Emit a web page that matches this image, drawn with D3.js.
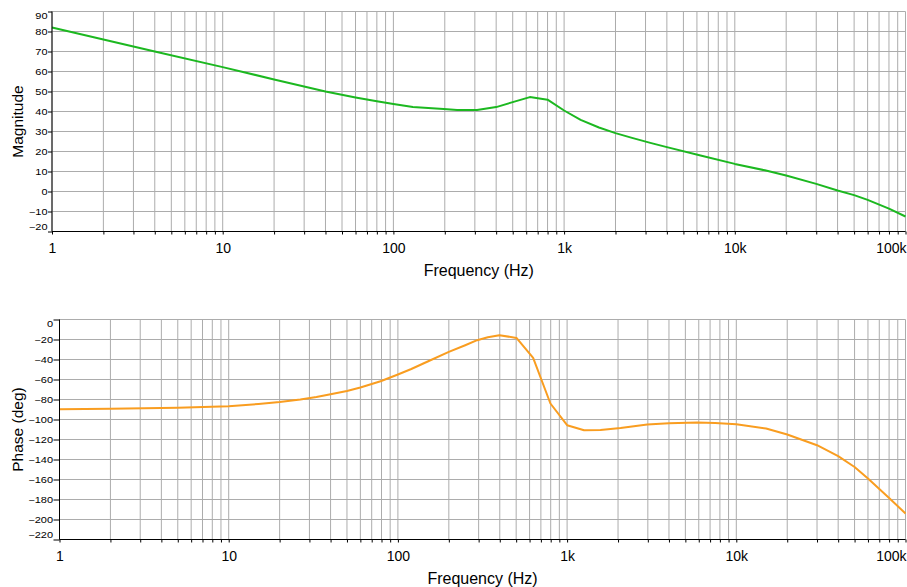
<!DOCTYPE html>
<html>
<head>
<meta charset="utf-8">
<script src="https://cdn.jsdelivr.net/npm/d3@7"></script>
<style>
  html, body { margin: 0; padding: 0; background: #ffffff; }
  svg { display: block; font-family: "Liberation Sans", Arial, sans-serif; }
</style>
</head>
<body>
<svg id="chart" width="907" height="587"></svg>
<script>
// ---- data ----
const magFreq = [1, 2, 4, 10, 20, 40, 60, 80, 100, 130, 160, 197, 236, 309, 400, 500, 630, 800, 1000, 1250, 1600, 2000, 2500, 3200, 4000, 6300, 10000, 15000, 20000, 30000, 40000, 50000, 60000, 80000, 100000];
const magDb   = [82, 76, 70, 62.2, 56, 50, 47.0, 45.1, 43.8, 42.2, 41.7, 41.2, 40.7, 40.8, 42.2, 44.7, 47.2, 45.9, 40.5, 35.8, 32, 29.2, 26.8, 24.3, 22.2, 18, 13.8, 10.6, 8, 3.8, 0.5, -1.8, -4.2, -8.6, -12.5];

const phFreq = [1, 2, 5, 10, 15, 20, 26.5, 33, 40, 50, 60, 79, 100, 120, 150, 200, 250, 294, 340, 398, 502, 630, 797, 1000, 1260, 1575, 2070, 2977, 4000, 5875, 7500, 10000, 15000, 20000, 30000, 40000, 50000, 60000, 80000, 100000];
const phDeg  = [-89.7, -89.3, -88.3, -86.7, -84.5, -82.6, -80, -77.5, -74.7, -71.5, -68, -61.7, -55, -49.5, -42, -32.4, -25.8, -20.7, -17.8, -15.7, -18.4, -38.4, -84, -105.7, -110.7, -110.4, -108.4, -105, -103.8, -103, -103.5, -104.7, -109, -115, -125.7, -136.7, -147.5, -159, -178.5, -194];

const freqDomain = [1, 100000];
const decadeLabels = ["1", "10", "100", "1k", "10k", "100k"];
const magTicks = [90, 80, 70, 60, 50, 40, 30, 20, 10, 0, -10, -20];
const phTicks = [0, -20, -40, -60, -80, -100, -120, -140, -160, -180, -200, -220];

const xLabel = "Frequency (Hz)";
const magLabel = "Magnitude";
const phLabel = "Phase (deg)";

// minor tick positions: 1..9 x each decade
const minorFreqs = [];
for (let d = 0; d < 5; d++) for (let m = 1; m <= 9; m++) minorFreqs.push(m * Math.pow(10, d));
minorFreqs.push(100000);

const svg = d3.select("#chart");

function panel(opts) {
  const x = d3.scaleLog().domain(freqDomain).range([opts.left, opts.right]);
  const y = d3.scaleLinear().domain(opts.yDomain).range([opts.bottom, opts.top]);
  const g = svg.append("g");

  // vertical grid
  g.append("g").selectAll("line").data(minorFreqs).join("line")
    .attr("x1", d => x(d)).attr("x2", d => x(d))
    .attr("y1", opts.top).attr("y2", opts.bottom)
    .attr("stroke", "#acacac").attr("stroke-width", 1);
  // horizontal grid
  g.append("g").selectAll("line").data(opts.yTicks).join("line")
    .attr("x1", opts.left).attr("x2", opts.right)
    .attr("y1", d => y(d)).attr("y2", d => y(d))
    .attr("stroke", "#acacac").attr("stroke-width", 1);

  // curve
  const pts = opts.freq.map((f, i) => [f, opts.vals[i]]);
  g.append("path").datum(pts)
    .attr("fill", "none")
    .attr("stroke", opts.color)
    .attr("stroke-width", 2)
    .attr("stroke-linejoin", "round")
    .attr("d", d3.line().x(d => x(d[0])).y(d => y(d[1])).curve(d3.curveLinear));

  // x axis
  const xAxis = d3.axisBottom(x)
    .tickValues(minorFreqs)
    .tickSize(3)
    .tickPadding(8.5)
    .tickFormat(d => {
      const l = Math.log10(d);
      return Math.abs(l - Math.round(l)) < 1e-9 ? decadeLabels[Math.round(l)] : "";
    });
  const gx = g.append("g").attr("transform", `translate(0,${opts.bottom})`).call(xAxis);
  gx.select(".domain").attr("stroke", "#000").attr("d", `M${opts.left},0H${opts.right}`);
  gx.selectAll(".tick line").attr("stroke", "#000");
  gx.selectAll(".tick text")
    .attr("fill", "#000")
    .style("font-size", "14px")
    .style("font-family", "'Liberation Sans', Arial, sans-serif")
    .attr("text-anchor", d => d === freqDomain[1] ? "end" : "middle")
    .attr("x", d => d === freqDomain[1] ? 0.5 : 0);

  // y axis
  const yAxis = d3.axisLeft(y).tickValues(opts.yTicks).tickSize(opts.tickLen).tickPadding(0.5);
  const gy = g.append("g").attr("transform", `translate(${opts.left},0)`).call(yAxis);
  gy.select(".domain").attr("stroke", "#000").attr("d", `M0,${opts.top}V${opts.bottom}`);
  gy.selectAll(".tick line").attr("stroke", "#000");
  const maxV = d3.max(opts.yTicks), minV = d3.min(opts.yTicks);
  gy.selectAll(".tick text")
    .attr("fill", "#000")
    .style("font-size", "11px")
    .style("font-family", "'Liberation Sans', Arial, sans-serif")
    .attr("transform", "scale(1,0.8)")
    .attr("y", d => d === maxV ? 4 / 0.8 : (d === minV ? -5 / 0.8 : 0));

  g.selectAll(".domain").attr("stroke-width", 1);

  // x title
  g.append("text")
    .attr("x", (opts.left + opts.right) / 2)
    .attr("y", opts.bottom + 44)
    .attr("text-anchor", "middle")
    .style("font-size", "16px")
    .attr("fill", "#000")
    .text(xLabel);

  // y title
  g.append("text")
    .attr("transform", `translate(22.5,${(opts.top + opts.bottom) / 2}) rotate(-90)`)
    .attr("text-anchor", "middle")
    .style("font-size", "15.5px")
    .attr("fill", "#000")
    .text(opts.yTitle);
}

panel({
  left: 52, right: 905.5, top: 11.5, bottom: 231.5,
  yDomain: [-20, 90], yTicks: magTicks, tickLen: 4,
  freq: magFreq, vals: magDb, color: "#1cb820", yTitle: magLabel
});

panel({
  left: 59.5, right: 905.5, top: 319.5, bottom: 539.5,
  yDomain: [-220, 0], yTicks: phTicks, tickLen: 6,
  freq: phFreq, vals: phDeg, color: "#f99d20", yTitle: phLabel
});
</script>
</body>
</html>
